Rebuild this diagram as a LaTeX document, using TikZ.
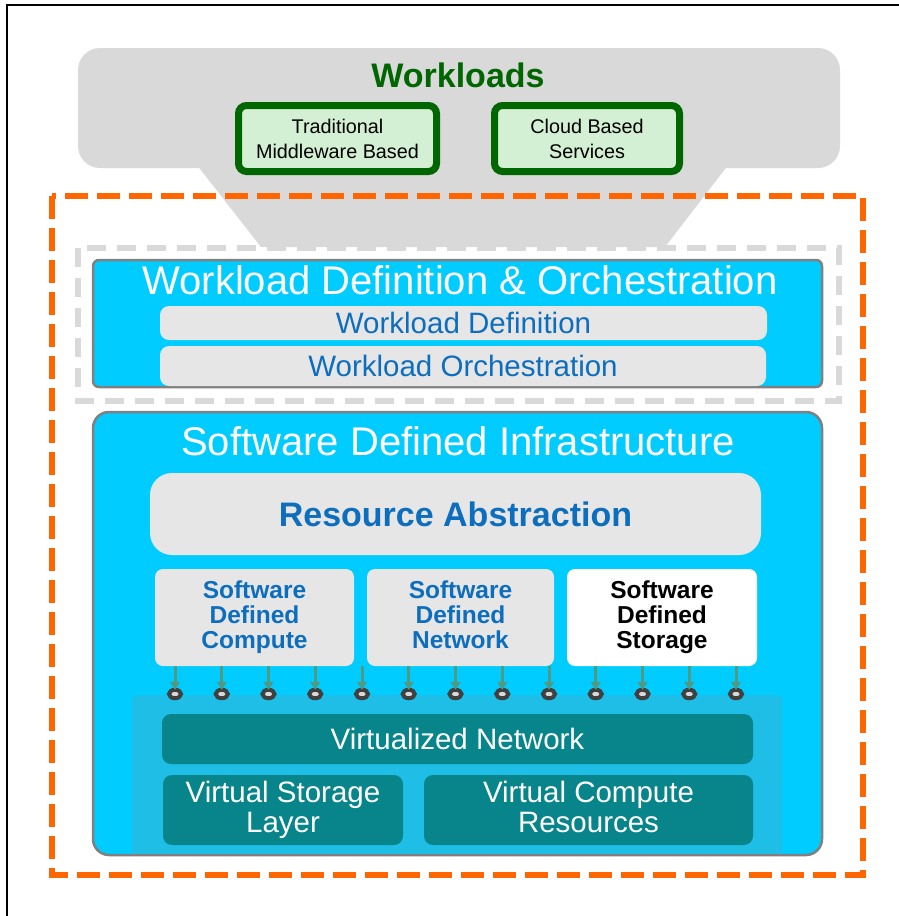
\documentclass[tikz,border=0pt]{standalone}
\usepackage{fontspec}
\setmainfont{Liberation Sans}
\usetikzlibrary{arrows.meta,shapes.geometric}
\definecolor{wlgray}{HTML}{D9D9D9}
\definecolor{wlgreen}{HTML}{006600}
\definecolor{wlfill}{HTML}{D4F0D4}
\definecolor{orangeline}{HTML}{FF6600}
\definecolor{sdiblue}{HTML}{00CCFF}
\definecolor{boxborder}{HTML}{808080}
\definecolor{bargray}{HTML}{E6E6E6}
\definecolor{textblue}{HTML}{0D6EBD}
\definecolor{panelblue}{HTML}{1EBEE6}
\definecolor{teal}{HTML}{08858A}
\definecolor{arrowgreen}{HTML}{4F9A84}
\definecolor{ringgray}{HTML}{404040}
\tikzset{
  greenbox/.style={draw=wlgreen, line width=7pt, fill=wlfill, rounded corners=8pt,
    inner sep=0pt, outer sep=0pt, align=center, text=black,
    font=\fontsize{19.8}{25}\selectfont},
  bigbox/.style={draw=boxborder, line width=2.5pt, fill=sdiblue, inner sep=0pt, outer sep=0pt},
  titletext/.style={text=white, inner sep=0pt, font=\fontsize{40}{46}\selectfont},
  bar/.style={fill=bargray, rounded corners=9pt, inner sep=0pt, outer sep=0pt,
    text=textblue, font=\fontsize{29.5}{35}\selectfont},
  sdbox/.style={fill=bargray, rounded corners=8pt, inner sep=0pt, outer sep=0pt,
    align=center, text=textblue, font=\bfseries\fontsize{24.5}{25}\selectfont},
  tealbox/.style={fill=teal, rounded corners=9pt, inner sep=0pt, outer sep=0pt,
    align=center, text=white, font=\fontsize{29.5}{30}\selectfont},
  ring/.style={ellipse, draw=ringgray, fill=wlgray, line width=4pt,
    minimum width=12pt, minimum height=8.5pt, inner sep=0pt, outer sep=0pt},
  feed/.style={draw=arrowgreen, line width=3pt, -{Triangle[width=10pt,length=8pt]}}
}
\begin{document}
\begin{tikzpicture}[x=1pt,y=-1pt]
\useasboundingbox (0,0) rectangle (899,916);
% outer frame
\draw[line width=1.4pt] (7,916) -- (7,5) -- (899,5);

% workloads funnel
\fill[wlgray, rounded corners=22pt] (78,48) rectangle (840,168);
\fill[wlgray] (193,160) -- (732,160) -- (665,247) -- (261,247) -- cycle;
\node[anchor=base, text=wlgreen, inner sep=0pt, font=\bfseries\fontsize{34}{40}\selectfont] (wl) at (458,87) {Workloads};
\node[greenbox, minimum width=198pt, minimum height=66pt] (trad) at (337.5,138.5) {Traditional\\Middleware Based};
\node[greenbox, minimum width=185pt, minimum height=66pt] (cloud) at (587,138.5) {Cloud Based\\Services};

% dashed frames
\draw[orangeline, line width=6.5pt, dash pattern=on 23pt off 9pt] (52,196) rectangle (863,875);
\draw[wlgray, line width=6pt, dash pattern=on 19pt off 11pt] (78,248) rectangle (839,401);

% workload definition & orchestration
\node[bigbox, rounded corners=6pt, minimum width=729pt, minimum height=127pt] (wdo) at (457.5,323.5) {};
\node[titletext, anchor=base] (wdotitle) at (460,294) {Workload Definition \& Orchestration};
\node[bar, minimum width=607pt, minimum height=34pt] (wdef) at (463.5,323) {Workload Definition};
\node[bar, minimum width=606pt, minimum height=40pt] (worch) at (463,366) {Workload Orchestration};

% software defined infrastructure
\node[bigbox, rounded corners=16pt, minimum width=729pt, minimum height=443pt] (sdi) at (457.5,633.5) {};
\node[titletext, anchor=base] (sdititle) at (458,455) {Software Defined Infrastructure};
\node[fill=bargray, rounded corners=22pt, inner sep=0pt, minimum width=611pt, minimum height=82pt,
  text=textblue, font=\bfseries\fontsize{34}{40}\selectfont] (ra) at (455.5,514) {Resource Abstraction};
\node[sdbox, minimum width=199pt, minimum height=97pt] (sdc) at (254.5,617.5) {Software\\Defined\\Compute};
\node[sdbox, minimum width=187pt, minimum height=97pt] (sdn) at (460.5,617.5) {Software\\Defined\\Network\vphantom{p}};
\node[sdbox, fill=white, text=black, minimum width=190pt, minimum height=97pt] (sds) at (662,617.5) {Software\\Defined\\Storage};

% virtualization panel
\fill[panelblue, rounded corners=6pt] (132,853.5) -- (132,695) -- (782,695) -- (782,853.5);
\fill[panelblue] (132,840) rectangle (782,853.6);
\node[tealbox, minimum width=591pt, minimum height=50pt] (vn) at (457.5,739) {Virtualized Network};
\node[tealbox, minimum width=240pt, minimum height=70pt] (vsl) at (283,810) {Virtual Storage\\Layer};
\node[tealbox, minimum width=329pt, minimum height=70pt] (vcr) at (588.5,810) {Virtual Compute\\Resources\vphantom{y}};

% connectors
\foreach \i in {0,...,12} {
  \node[ring] (c\i) at ({175+46.75*\i},694) {};
  \draw[feed] (c\i |- sdc.south) -- (c\i.north);
}
\end{tikzpicture}
\end{document}
